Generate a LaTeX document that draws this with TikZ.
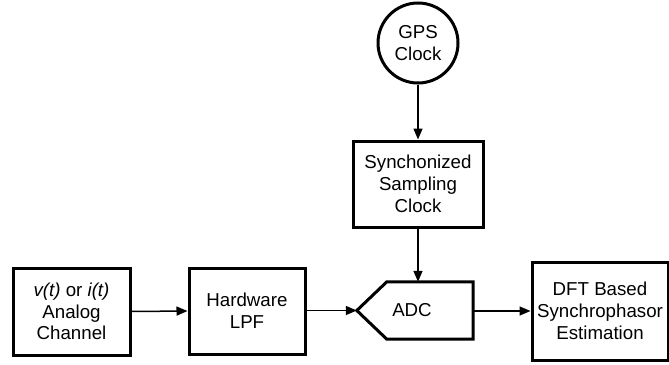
\documentclass[tikz,border=0pt]{standalone}
\usepackage{fontspec}
\setmainfont{Liberation Sans}
\usetikzlibrary{arrows.meta}
\begin{document}
\begin{tikzpicture}[x=1pt,y=-1pt,
  every node/.style={font=\fontsize{18.7}{21.7}\selectfont, align=center, inner sep=0pt},
  blk/.style={draw, line width=3pt, minimum width=#1},
  blk/.default=116pt,
  link/.style={line width=1.5pt, -{Triangle[length=11pt,width=9pt]}}]
  \useasboundingbox (0,0) rectangle (669,364);

  % clock source and sampling clock
  \node[draw, circle, line width=3pt, minimum size=80pt] (gps) at (418,43) {GPS\\Clock};
  \node[blk=130pt, minimum height=86pt] (sync) at (418,184) {Synchonized\\Sampling\\Clock};

  % signal chain
  \node[blk=117pt, minimum height=87pt] (ana) at (71.5,311.5) {\textit{v(t)} or \textit{i(t)}\\Analog\\Channel};
  \node[blk=116pt, minimum height=86pt] (lpf) at (247,311) {Hardware\\LPF};

  % ADC: pointed block, outline drawn from the node's anchors
  \node[minimum width=116pt, minimum height=57pt] (adc) at (415,310.5) {};
  \node at (412,310.5) {ADC};
  \draw[line width=3pt, line join=miter]
    (adc.west) -- ([xshift=30pt]adc.north west) -- (adc.north east)
    -- (adc.south east) -- ([xshift=30pt]adc.south west) -- cycle;

  \node[blk=136pt, minimum height=98pt] (dft) at (600,311) {DFT Based\\Synchrophasor\\Estimation};

  % connectors
  \draw[link] (gps.south) -- (sync.north);
  \draw[link] (sync.south) -- (sync.south |- adc.north);
  \draw[link] (ana.east) -- (lpf.west);
  \draw[link] (lpf.east |- adc.west) -- (adc.west);
  \draw[link] (adc.east |- dft.west) -- (dft.west);
\end{tikzpicture}
\end{document}
